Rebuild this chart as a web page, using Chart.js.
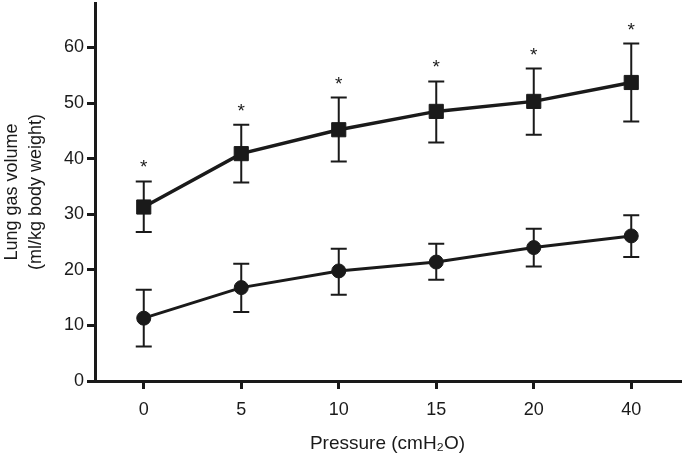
<!DOCTYPE html>
<html>
  <head>
    <title>Lung gas volume</title>
    <script src="https://cdn.jsdelivr.net/npm/chart.js"></script>
    <style>
      html, body {
        margin: 0;
        padding: 0;
        background: #fff;
      }
      .chart-container {
        width: 685px;
        height: 455px;
      }
    </style>
  </head>
  <body>
    <div class="chart-container">
      <canvas id="graph"></canvas>
    </div>
    <script>
      const pressures = ["0", "5", "10", "15", "20", "40"];

      // squares (upper series)
      const squareMean = [31.3, 40.9, 45.2, 48.5, 50.3, 53.7];
      const squareHigh = [35.9, 46.1, 51.0, 53.9, 56.2, 60.7];
      const squareLow = [26.8, 35.7, 39.5, 42.9, 44.3, 46.7];
      const squareStars = ["*", "*", "*", "*", "*", "*"];

      // circles (lower series)
      const circleMean = [11.3, 16.8, 19.8, 21.4, 24.0, 26.1];
      const circleHigh = [16.4, 21.1, 23.8, 24.7, 27.4, 29.8];
      const circleLow = [6.2, 12.4, 15.5, 18.2, 20.6, 22.3];

      const yTicks = [0, 10, 20, 30, 40, 50, 60];
      const ink = "#1a1a1a";
      const font = "'Liberation Sans', Arial, sans-serif";

      // error bars + asterisks, placed with the chart's own scales
      const errorBars = {
        id: "errorBars",
        beforeDatasetsDraw(chart) {
          const ctx = chart.ctx;
          const x = chart.scales.x;
          const y = chart.scales.y;
          const sets = [
            [squareHigh, squareLow],
            [circleHigh, circleLow],
          ];
          ctx.save();
          ctx.strokeStyle = ink;
          ctx.lineWidth = 2;
          sets.forEach(([hi, lo]) => {
            hi.forEach((h, i) => {
              const px = x.getPixelForValue(i);
              const top = y.getPixelForValue(h);
              const bot = y.getPixelForValue(lo[i]);
              ctx.beginPath();
              ctx.moveTo(px, top);
              ctx.lineTo(px, bot);
              ctx.moveTo(px - 8, top);
              ctx.lineTo(px + 8, top);
              ctx.moveTo(px - 8, bot);
              ctx.lineTo(px + 8, bot);
              ctx.stroke();
            });
          });
          ctx.restore();
        },
        afterDatasetsDraw(chart) {
          const ctx = chart.ctx;
          const x = chart.scales.x;
          const y = chart.scales.y;
          ctx.save();
          ctx.fillStyle = ink;
          ctx.font = "19px " + font;
          ctx.textAlign = "center";
          ctx.textBaseline = "alphabetic";
          squareStars.forEach((s, i) => {
            const px = x.getPixelForValue(i);
            const top = y.getPixelForValue(squareHigh[i]);
            ctx.fillText(s, px, top - 8);
          });
          ctx.restore();
        },
      };

      const ctx = document.getElementById("graph").getContext("2d");
      new Chart(ctx, {
        type: "line",
        data: {
          labels: pressures,
          datasets: [
            {
              label: "Squares",
              data: squareMean,
              borderColor: ink,
              backgroundColor: ink,
              borderWidth: 3.5,
              pointStyle: "rect",
              pointRadius: 10,
              pointBorderWidth: 1,
              tension: 0,
            },
            {
              label: "Circles",
              data: circleMean,
              borderColor: ink,
              backgroundColor: ink,
              borderWidth: 3,
              pointStyle: "circle",
              pointRadius: 7,
              pointBorderWidth: 1,
              tension: 0,
            },
          ],
        },
        options: {
          responsive: true,
          maintainAspectRatio: false,
          animation: false,
          layout: {
            autoPadding: false,
            padding: { top: 3, right: 5, left: 0, bottom: 0 },
          },
          plugins: {
            legend: { display: false },
            tooltip: { enabled: false },
          },
          scales: {
            x: {
              type: "category",
              offset: true,
              border: { display: true, color: ink, width: 3 },
              grid: {
                display: true,
                offset: false,
                drawOnChartArea: false,
                drawTicks: true,
                tickLength: 8,
                color: ink,
                lineWidth: 3,
              },
              ticks: {
                color: ink,
                font: { family: font, size: 18 },
                padding: 10,
                maxRotation: 0,
              },
              title: {
                display: true,
                text: "Pressure (cmH₂O)",
                color: ink,
                font: { family: font, size: 19 },
                padding: { top: 7, bottom: 0 },
              },
              afterFit(scale) {
                scale.height = 74;
                scale.paddingRight = 0;
                scale.paddingLeft = 0;
              },
            },
            y: {
              min: 0,
              max: 68,
              border: { display: true, color: ink, width: 3 },
              grid: {
                display: true,
                drawOnChartArea: false,
                drawTicks: true,
                tickLength: 8,
                color: ink,
                lineWidth: 3,
              },
              ticks: {
                stepSize: 10,
                color: ink,
                font: { family: font, size: 18 },
                padding: 3,
              },
              afterBuildTicks(scale) {
                scale.ticks = yTicks.map((v) => ({ value: v }));
              },
              title: {
                display: true,
                text: ["Lung gas volume", "(ml/kg body weight)"],
                color: ink,
                font: { family: font, size: 18, lineHeight: 1.33 },
                padding: { top: 0, bottom: 0 },
              },
              afterFit(scale) {
                scale.width = 95;
                scale.paddingTop = 0;
                scale.paddingBottom = 0;
              },
            },
          },
        },
        plugins: [errorBars],
      });
    </script>
  </body>
</html>
